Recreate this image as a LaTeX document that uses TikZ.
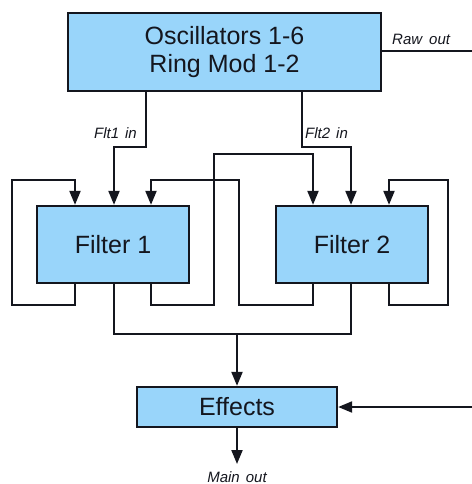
\documentclass[tikz,border=0pt]{standalone}
\usepackage{fontspec}
\setmainfont{Liberation Sans}
\usetikzlibrary{arrows.meta}
\definecolor{boxblue}{RGB}{153,213,250}
\definecolor{inkc}{RGB}{20,22,30}
\tikzset{
  blk/.style={draw=inkc, fill=boxblue, line width=2.3pt, inner sep=0pt, font=\fontsize{25}{28}\selectfont, text=inkc, align=center},
  wire/.style={draw=inkc, line width=2.1pt},
  arr/.style={wire, -{Triangle[length=14pt,width=11pt]}},
  lbl/.style={font=\fontsize{15}{17}\itshape, text=inkc, inner sep=0pt}
}
\begin{document}
\begin{tikzpicture}[x=1pt,y=-1pt]
\useasboundingbox (0,0) rectangle (471,484);
\node[blk, minimum width=313pt, minimum height=78pt] (osc) at (224.5,52) {Oscillators 1-6\\Ring Mod 1-2};
\node[blk, minimum width=152pt, minimum height=77pt] (f1) at (113,244.5) {Filter 1};
\node[blk, minimum width=152pt, minimum height=77pt] (f2) at (352,244.5) {Filter 2};
\node[blk, minimum width=200pt, minimum height=40pt] (fx) at (237,407) {Effects};
% labels
\node[lbl, anchor=base west] (rawl) at (392,45) {Raw\hspace{7pt}out};
\node[lbl, anchor=base east] (f1l) at (137,138) {Flt1\hspace{6pt}in};
\node[lbl, anchor=base west] (f2l) at (305,138) {Flt2\hspace{6pt}in};
\node[lbl, anchor=base] (mainl) at (237,482) {Main\hspace{6pt}out};
% inputs from oscillators
\draw[arr] (146,0 |- osc.south) -- (146,147) -- (114,147) -- (114,0 |- f1.north);
\draw[arr] (302,0 |- osc.south) -- (302,147) -- (351,147) -- (351,0 |- f2.north);
% feedback loops
\draw[arr] (75,0 |- f1.south) -- (75,305) -- (12,305) -- (12,180) -- (75,180) -- (75,0 |- f1.north);
\draw[arr] (151,0 |- f1.south) -- (151,305) -- (214,305) -- (214,154) -- (313,154) -- (313,0 |- f2.north);
\draw[arr] (313,0 |- f2.south) -- (313,305) -- (239,305) -- (239,180) -- (151,180) -- (151,0 |- f1.north);
\draw[arr] (389,0 |- f2.south) -- (389,305) -- (448,305) -- (448,180) -- (389,180) -- (389,0 |- f2.north);
% outputs to effects
\coordinate (mix) at (237,334);
\draw[wire] (114,0 |- f1.south) -- (114,334) -- (351,334) -- (351,0 |- f2.south);
\draw[arr] (mix) -- (fx.north);
\coordinate (mainend) at (237,464);
\draw[arr] (fx.south) -- (mainend);
% raw out
\coordinate (rawr) at (474,51);
\coordinate (rawd) at (474,407);
\draw[wire] (osc.east |- rawr) -- (rawr) -- (rawd);
\draw[arr] (rawd) -- (fx.east);
\end{tikzpicture}
\end{document}
